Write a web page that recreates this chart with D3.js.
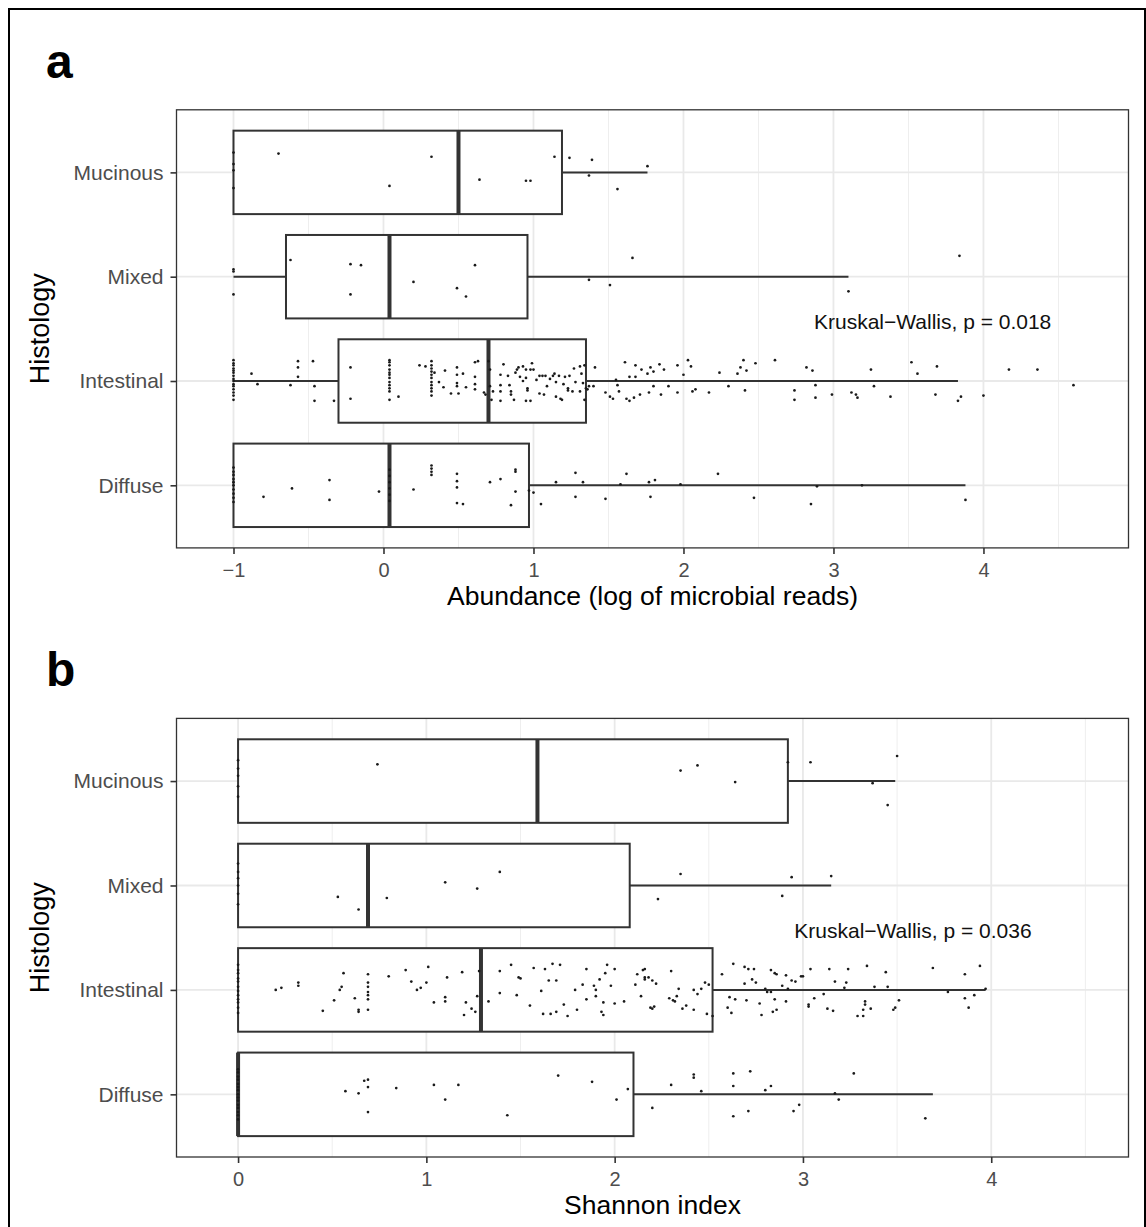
<!DOCTYPE html>
<html>
<head>
<meta charset="utf-8">
<script src="https://cdn.jsdelivr.net/npm/d3@7"></script>
<style>
  body { margin: 0; background: #fff; }
  svg { display: block; }
  text { font-family: "Liberation Sans", Arial, Helvetica, sans-serif; }
</style>
</head>
<body>
<svg id="fig" width="1146" height="1227"></svg>
<script>
// Histology groups, top to bottom
const histology = ["Mucinous", "Mixed", "Intestinal", "Diffuse"];

// Axis ticks
const abundanceTicks = [-1, 0, 1, 2, 3, 4];
const shannonTicks = [0, 1, 2, 3, 4];

// Box summaries: [lower whisker, Q1, median, Q3, upper whisker]
const abundanceMucinousBox   = [-1, -1, 0.50, 1.19, 1.76];
const abundanceMixedBox      = [-1, -0.65, 0.04, 0.96, 3.10];
const abundanceIntestinalBox = [-1, -0.30, 0.70, 1.35, 3.83];
const abundanceDiffuseBox    = [-1, -1, 0.04, 0.97, 3.88];

const shannonMucinousBox   = [0, 0, 1.59, 2.92, 3.49];
const shannonMixedBox      = [0, 0, 0.69, 2.08, 3.15];
const shannonIntestinalBox = [0, 0, 1.29, 2.52, 3.97];
const shannonDiffuseBox    = [0, 0, 0, 2.10, 3.69];

// Individual samples: [value, vertical jitter in category steps (down positive)]
const abundanceMucinousPoints = [
  [-1,-0.19],[-1,-0.08],[-1,-0.02],[-1,0.15],
  [-0.70,-0.18],[0.32,-0.15],[0.04,0.13],[0.64,0.07],[0.95,0.08],[0.98,0.08],
  [1.14,-0.15],[1.24,-0.14],[1.39,-0.12],[1.37,0.03],[1.56,0.16],[1.76,-0.06]
];
const abundanceMixedPoints = [
  [-1,-0.07],[-1,-0.05],[-1,0.17],[-0.62,-0.16],[-0.22,-0.12],[-0.15,-0.11],[-0.22,0.17],
  [0.20,0.05],[0.49,0.11],[0.55,0.19],[0.61,-0.11],[1.37,0.03],[1.51,0.08],[1.66,-0.18],
  [3.10,0.14],[3.84,-0.20]
];
const abundanceIntestinalPoints = [
  [-1,-0.20],[-1,-0.17],[-1,-0.15],[-1,-0.12],[-1,-0.10],[-1,-0.08],[-1,-0.05],[-1,-0.02],
  [-1,0.00],[-1,0.03],[-1,0.05],[-1,0.08],[-1,0.11],[-1,0.14],[-1,0.18],
  [-0.88,-0.07],[-0.84,0.03],[-0.62,0.04],[-0.57,-0.19],[-0.57,-0.13],[-0.57,-0.04],[-0.47,-0.19],
  [-0.46,0.05],[-0.46,0.19],[-0.33,0.19],[-0.22,-0.13],[-0.22,0.17],
  [0.04,-0.20],[0.04,-0.18],[0.04,-0.15],[0.04,-0.11],[0.04,-0.08],[0.04,-0.06],[0.04,-0.03],
  [0.04,0.01],[0.04,0.04],[0.04,0.07],[0.04,0.10],[0.04,0.18],
  [0.10,0.15],[0.24,-0.15],[0.28,-0.14],
  [0.32,-0.19],[0.32,-0.15],[0.32,-0.12],[0.32,-0.09],[0.32,-0.06],[0.32,-0.03],[0.32,0.01],
  [0.32,0.04],[0.32,0.07],[0.32,0.10],[0.32,0.14],
  [0.34,-0.08],[0.37,0.01],[0.40,0.06],[0.41,-0.10],[0.45,0.12],[0.49,-0.13],[0.49,-0.06],
  [0.49,0.02],[0.49,0.05],[0.50,0.12],[0.53,-0.07],[0.55,0.06],[0.61,-0.18],[0.61,-0.04],
  [0.61,0.03],[0.61,0.08],[0.63,-0.19],[0.67,0.11],[0.68,0.13],[0.70,-0.19],[0.71,-0.11],
  [0.71,0.05],[0.72,0.18],[0.73,0.10],
  [0.78,-0.06],[0.78,0.04],[0.78,0.10],[0.78,0.19],[0.80,-0.16],[0.83,-0.05],[0.84,0.04],
  [0.85,0.10],[0.85,0.13],[0.87,0.18],[0.88,-0.08],[0.89,-0.11],[0.90,-0.13],[0.91,-0.04],
  [0.93,0.00],[0.93,-0.14],[0.95,-0.11],[0.95,-0.03],[0.96,0.07],[0.96,0.09],[0.95,0.19],
  [0.98,0.19],[0.98,-0.11],[0.99,-0.17],[1.00,-0.11],[1.02,-0.01],[1.04,0.12],[1.04,-0.05],
  [1.06,-0.05],[1.07,0.13],[1.08,-0.05],[1.09,0.05],[1.11,-0.02],[1.13,-0.05],[1.14,-0.07],
  [1.15,0.01],[1.15,0.15],[1.17,-0.05],[1.18,0.17],[1.19,0.18],[1.20,0.03],[1.21,-0.04],
  [1.23,0.07],[1.23,0.09],[1.24,-0.05],[1.26,0.10],[1.27,-0.12],[1.28,0.01],[1.31,-0.14],
  [1.31,0.10],[1.32,-0.07],[1.33,0.02],[1.34,-0.15],[1.34,0.18],[1.35,0.07],[1.36,0.08],
  [1.37,0.05],[1.40,0.05],[1.41,-0.13],[1.48,0.11],[1.51,0.15],[1.53,0.17],[1.55,-0.01],
  [1.56,0.04],[1.57,0.10],[1.61,-0.18],[1.62,0.17],[1.64,0.19],[1.64,-0.04],[1.67,0.16],
  [1.68,-0.15],[1.68,-0.04],[1.71,0.13],[1.72,-0.11],[1.76,-0.07],[1.77,0.11],[1.78,-0.13],
  [1.80,-0.09],[1.80,0.05],[1.84,-0.16],[1.85,0.13],[1.87,-0.11],[1.90,0.05],
  [1.96,-0.15],[1.96,0.11],[2.00,-0.06],[2.03,-0.20],[2.05,-0.14],[2.06,0.10],[2.08,0.08],
  [2.17,0.11],[2.24,-0.08],[2.30,0.05],[2.36,-0.07],[2.38,-0.13],[2.40,-0.20],[2.41,0.09],
  [2.42,-0.10],[2.48,-0.17],[2.61,-0.20],[2.74,0.09],[2.74,0.18],[2.82,-0.13],[2.86,-0.10],
  [2.88,0.04],[2.88,0.16],[2.99,0.13],[3.12,0.11],[3.15,0.13],[3.16,0.16],[3.25,-0.11],
  [3.27,0.05],[3.38,0.15],[3.52,-0.18],[3.56,-0.07],[3.68,0.13],[3.69,-0.14],[3.83,0.19],
  [3.85,0.15],[4.00,0.14],[4.17,-0.11],[4.36,-0.11],[4.60,0.04]
];
const abundanceDiffusePoints = [
  [-1,-0.17],[-1,-0.13],[-1,-0.10],[-1,-0.06],[-1,-0.03],[-1,0.00],[-1,0.04],[-1,0.08],
  [-1,0.12],[-1,0.16],
  [-0.80,0.11],[-0.61,0.03],[-0.36,-0.05],[-0.36,0.14],[-0.03,0.06],
  [0.04,-0.15],[0.04,-0.09],[0.04,-0.03],[0.04,0.03],[0.04,0.09],[0.04,0.15],
  [0.20,0.04],[0.32,-0.19],[0.32,-0.16],[0.32,-0.13],[0.32,-0.10],[0.49,-0.11],[0.49,-0.04],
  [0.49,0.02],[0.49,0.17],[0.53,0.18],[0.71,-0.03],[0.78,-0.06],[0.88,-0.15],[0.88,-0.13],
  [0.88,0.06],[0.85,0.19],[0.97,0.05],[1.00,0.07],[1.05,0.18],[1.15,-0.03],[1.28,-0.12],
  [1.33,-0.03],[1.28,0.11],[1.48,0.13],[1.58,-0.01],[1.62,-0.11],[1.77,-0.03],[1.81,-0.05],
  [1.78,0.11],[1.98,-0.01],[2.23,-0.11],[2.47,0.12],[2.85,0.18],[2.89,0.01],[3.19,0.00],
  [3.88,0.14]
];

const shannonMucinousPoints = [
  [0,-0.20],[0,-0.12],[0,-0.05],[0,0.05],[0,0.15],
  [0.74,-0.16],[2.35,-0.10],[2.44,-0.15],[2.64,0.01],[2.92,-0.18],[3.04,-0.18],[3.50,-0.24],
  [3.37,0.02],[3.45,0.23]
];
const shannonMixedPoints = [
  [0,-0.21],[0,-0.13],[0,-0.07],[0,0.00],[0,0.08],[0,0.18],
  [0.53,0.11],[0.64,0.23],[0.79,0.12],[1.10,-0.03],[1.27,0.03],[1.39,-0.13],[2.35,-0.11],
  [2.23,0.13],[2.94,-0.08],[2.89,0.10],[3.15,-0.09]
];
const shannonIntestinalPoints = [
  [0,-0.24],[0,-0.19],[0,-0.16],[0,-0.11],[0,-0.08],[0,-0.03],[0,0.01],[0,0.05],[0,0.09],
  [0,0.12],[0,0.17],[0,0.22],
  [0.20,0.00],[0.23,-0.02],[0.32,-0.07],[0.32,-0.04],[0.45,0.20],[0.51,0.10],[0.54,0.00],
  [0.55,-0.03],[0.56,-0.16],[0.62,0.08],[0.64,0.19],[0.64,0.21],[0.69,-0.15],[0.69,-0.07],
  [0.69,-0.03],[0.69,0.02],[0.69,0.05],[0.69,0.09],[0.69,0.19],[0.80,-0.13],[0.89,-0.19],
  [0.92,-0.08],[0.95,0.00],[0.97,-0.02],[1.00,-0.07],[1.01,-0.22],[1.04,0.12],[1.10,0.07],
  [1.10,0.11],[1.11,-0.12],[1.19,-0.17],[1.20,0.24],[1.21,0.12],[1.24,0.18],[1.26,0.21],
  [1.27,0.06],[1.28,-0.18],[1.33,0.11],[1.39,-0.18],[1.39,0.03],[1.45,-0.24],[1.48,0.05],
  [1.49,-0.12],[1.50,-0.11],[1.55,0.15],[1.57,-0.21],[1.62,0.23],[1.61,0.01],[1.63,-0.20],
  [1.65,-0.09],[1.66,0.23],[1.67,-0.25],[1.69,-0.09],[1.69,0.21],[1.71,-0.24],[1.73,0.14],
  [1.75,0.25],[1.79,0.00],[1.80,0.19],[1.83,-0.05],[1.85,-0.20],[1.85,0.09],[1.89,-0.04],
  [1.90,0.00],[1.90,0.06],[1.92,-0.10],[1.93,0.21],[1.94,0.24],[1.94,0.12],[1.95,-0.16],
  [1.96,-0.24],[1.98,-0.04],[2.00,0.13],[2.00,-0.20],[2.05,0.11],[2.11,-0.05],[2.12,-0.15],
  [2.14,0.06],[2.15,-0.19],[2.16,-0.12],[2.16,-0.10],[2.16,-0.20],[2.18,-0.12],[2.19,0.17],
  [2.20,-0.09],[2.20,0.18],[2.21,0.16],[2.22,-0.06],[2.29,0.08],[2.30,-0.18],[2.31,0.10],
  [2.32,0.11],[2.33,0.06],[2.34,-0.01],[2.36,0.18],[2.38,0.15],[2.42,0.00],[2.42,0.19],
  [2.44,0.04],[2.46,-0.01],[2.48,-0.07],[2.49,0.23],[2.50,-0.05],[2.52,0.25],[2.57,-0.15],
  [2.60,0.17],[2.61,0.07],[2.62,0.22],[2.63,-0.25],[2.64,0.09],[2.69,-0.22],[2.69,-0.06],
  [2.70,0.10],[2.71,-0.20],[2.73,-0.10],[2.74,-0.20],[2.75,-0.07],[2.77,0.13],[2.78,0.24],
  [2.80,-0.01],[2.81,0.02],[2.83,-0.19],[2.83,0.02],[2.84,0.21],[2.85,-0.16],[2.85,0.09],
  [2.86,0.19],[2.86,-0.15],[2.89,-0.04],[2.91,0.11],[2.91,-0.14],[2.92,-0.01],[2.94,-0.09],
  [2.96,-0.08],[2.99,-0.13],[3.00,-0.13],[3.03,0.14],[3.03,0.16],[3.04,-0.20],[3.06,0.08],
  [3.11,0.04],[3.13,0.18],[3.14,-0.20],[3.16,0.20],[3.17,-0.08],[3.22,-0.02],[3.23,-0.07],
  [3.24,-0.20],[3.29,0.25],[3.32,0.25],[3.32,0.19],[3.33,0.14],[3.33,0.11],[3.34,-0.23],
  [3.36,0.18],[3.38,-0.03],[3.44,-0.17],[3.45,-0.03],[3.48,0.19],[3.49,0.17],[3.51,0.10],
  [3.69,-0.21],[3.77,0.02],[3.86,0.08],[3.86,-0.15],[3.88,0.17],[3.91,0.05],[3.94,-0.23],
  [3.97,-0.01]
];
const shannonDiffusePoints = [
  [0,-0.24],[0,-0.21],[0,-0.17],[0,-0.14],[0,-0.10],[0,-0.07],[0,-0.04],[0,0.00],[0,0.03],
  [0,0.06],[0,0.10],[0,0.13],[0,0.17],[0,0.20],[0,0.24],
  [0.57,-0.03],[0.64,-0.01],[0.67,-0.13],[0.69,-0.14],[0.69,-0.07],[0.69,0.17],[0.84,-0.06],
  [1.04,-0.09],[1.10,0.05],[1.17,-0.09],[1.43,0.20],[1.70,-0.18],[1.88,-0.12],[2.01,0.05],
  [2.07,-0.05],[2.20,0.13],[2.30,-0.09],[2.42,-0.19],[2.42,-0.16],[2.46,-0.03],[2.63,-0.08],
  [2.63,-0.20],[2.63,0.21],[2.71,0.16],[2.72,-0.22],[2.80,-0.04],[2.83,-0.08],[2.95,0.16],
  [2.98,0.10],[3.17,-0.01],[3.19,0.05],[3.27,-0.20],[3.65,0.23]
];

// Tables assembled from the arrays above
const abundanceBoxes = [abundanceMucinousBox, abundanceMixedBox, abundanceIntestinalBox, abundanceDiffuseBox];
const abundancePoints = [abundanceMucinousPoints, abundanceMixedPoints, abundanceIntestinalPoints, abundanceDiffusePoints];
const shannonBoxes = [shannonMucinousBox, shannonMixedBox, shannonIntestinalBox, shannonDiffuseBox];
const shannonPoints = [shannonMucinousPoints, shannonMixedPoints, shannonIntestinalPoints, shannonDiffusePoints];

const svg = d3.select("#fig");
const INK = "#333333";

// Outer figure frame
svg.append("rect")
  .attr("x", 9).attr("y", 9).attr("width", 1136).attr("height", 1240)
  .attr("fill", "none").attr("stroke", "#000").attr("stroke-width", 2);

function fmtTick(d) { return d < 0 ? "\u2212" + Math.abs(d) : String(d); }

function drawPanel(p) {
  const x = d3.scaleLinear().domain(p.domain).range([p.left, p.right]);
  const y = d3.scalePoint().domain(histology).range([p.top, p.bottom]).padding(0.6);
  const step = y.step();
  const g = svg.append("g");

  // Grid
  const minor = d3.range(Math.ceil(p.domain[0] * 2) / 2, p.domain[1], 0.5)
    .filter(v => Math.abs(v - Math.round(v)) > 1e-9);
  g.append("g").selectAll("line").data(minor).join("line")
    .attr("x1", d => x(d)).attr("x2", d => x(d))
    .attr("y1", p.top).attr("y2", p.bottom)
    .attr("stroke", "#eeeeee").attr("stroke-width", 1);
  g.append("g").selectAll("line").data(p.ticks).join("line")
    .attr("x1", d => x(d)).attr("x2", d => x(d))
    .attr("y1", p.top).attr("y2", p.bottom)
    .attr("stroke", "#e9e9e9").attr("stroke-width", 1.8);
  g.append("g").selectAll("line").data(histology).join("line")
    .attr("x1", p.left).attr("x2", p.right)
    .attr("y1", d => y(d)).attr("y2", d => y(d))
    .attr("stroke", "#e9e9e9").attr("stroke-width", 1.8);

  // Boxes
  const half = step * 0.4;
  const boxData = histology.map((h, i) => ({ h, s: p.boxes[i] }));
  const bg = g.append("g").selectAll("g").data(boxData).join("g");
  bg.append("line")
    .attr("x1", d => x(d.s[0])).attr("x2", d => x(d.s[1]))
    .attr("y1", d => y(d.h)).attr("y2", d => y(d.h))
    .attr("stroke", INK).attr("stroke-width", 2);
  bg.append("line")
    .attr("x1", d => x(d.s[3])).attr("x2", d => x(d.s[4]))
    .attr("y1", d => y(d.h)).attr("y2", d => y(d.h))
    .attr("stroke", INK).attr("stroke-width", 2);
  bg.append("rect")
    .attr("x", d => x(d.s[1])).attr("width", d => x(d.s[3]) - x(d.s[1]))
    .attr("y", d => y(d.h) - half).attr("height", half * 2)
    .attr("fill", "#fff").attr("stroke", INK).attr("stroke-width", 2);
  bg.append("line")
    .attr("x1", d => x(d.s[2])).attr("x2", d => x(d.s[2]))
    .attr("y1", d => y(d.h) - half).attr("y2", d => y(d.h) + half)
    .attr("stroke", INK).attr("stroke-width", 4);

  // Samples
  const pts = histology.flatMap((h, i) => p.points[i].map(([v, j]) => ({ h, v, j })));
  g.append("g").selectAll("circle").data(pts).join("circle")
    .attr("cx", d => x(d.v)).attr("cy", d => y(d.h) + d.j * step)
    .attr("r", 1.35).attr("fill", "#1a1a1a");

  // Panel border
  g.append("rect")
    .attr("x", p.left).attr("y", p.top)
    .attr("width", p.right - p.left).attr("height", p.bottom - p.top)
    .attr("fill", "none").attr("stroke", INK).attr("stroke-width", 1.3);

  // Axes
  const xa = g.append("g").attr("transform", `translate(0,${p.bottom})`)
    .call(d3.axisBottom(x).tickValues(p.ticks).tickFormat(fmtTick).tickSize(6).tickPadding(9));
  const ya = g.append("g").attr("transform", `translate(${p.left},0)`)
    .call(d3.axisLeft(y).tickSize(6).tickPadding(7));
  [xa, ya].forEach(a => {
    a.select(".domain").remove();
    a.selectAll(".tick line").attr("stroke", INK).attr("stroke-width", 1.6);
    a.selectAll(".tick text").attr("fill", "#4d4d4d")
      .style("font-family", "'Liberation Sans', Arial, sans-serif");
  });
  xa.selectAll(".tick text").attr("font-size", 20);
  ya.selectAll(".tick text").attr("font-size", 21);

  // Titles
  g.append("text")
    .attr("x", (p.left + p.right) / 2).attr("y", p.bottom + 57)
    .attr("text-anchor", "middle").attr("font-size", 26.5).attr("fill", "#000")
    .text(p.xTitle);
  g.append("text")
    .attr("transform", `translate(49,${(p.top + p.bottom) / 2}) rotate(-90)`)
    .attr("text-anchor", "middle").attr("font-size", 27).attr("fill", "#000")
    .text("Histology");
  g.append("text")
    .attr("x", 46).attr("y", p.top - 32)
    .attr("font-size", 48).attr("font-weight", "bold").attr("fill", "#000")
    .text(p.letter);

  // Kruskal-Wallis annotation, placed between Mixed and Intestinal
  g.append("text")
    .attr("x", x(p.annoX)).attr("y", (y("Mixed") + y("Intestinal")) / 2)
    .attr("font-size", 21).attr("fill", "#111")
    .text(p.anno);
}

drawPanel({
  letter: "a",
  top: 109.8, bottom: 547.9, left: 176.5, right: 1128.5,
  domain: [-1.38, 4.967], ticks: abundanceTicks,
  boxes: abundanceBoxes, points: abundancePoints,
  xTitle: "Abundance (log of microbial reads)",
  anno: "Kruskal\u2212Wallis, p = 0.018", annoX: 2.87
});
drawPanel({
  letter: "b",
  top: 718.4, bottom: 1157, left: 176.5, right: 1128.5,
  domain: [-0.327, 4.729], ticks: shannonTicks,
  boxes: shannonBoxes, points: shannonPoints,
  xTitle: "Shannon index",
  anno: "Kruskal\u2212Wallis, p = 0.036", annoX: 2.954
});
</script>
</body>
</html>
